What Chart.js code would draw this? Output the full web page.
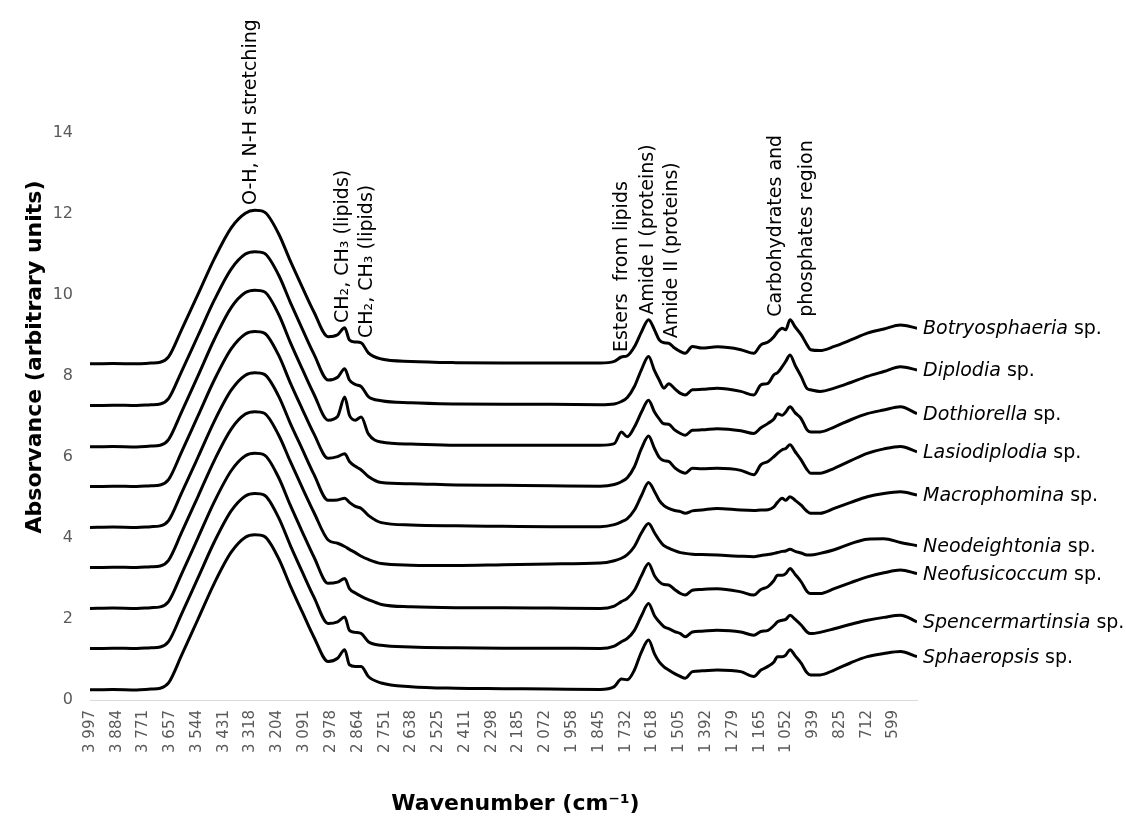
<!DOCTYPE html>
<html>
<head>
<meta charset="utf-8">
<title>FTIR spectra</title>
<script src="https://cdn.jsdelivr.net/npm/chart.js@4.4.1/dist/chart.umd.min.js"></script>
<style>
  body { margin: 0; background: #fff; }
</style>
</head>
<body>
<canvas id="chart" width="1126" height="817"></canvas>
<script>
// wavenumbers (cm-1) where the spectra were read
const wavenumbers = [3997, 3900, 3800, 3740, 3700, 3665, 3610, 3540, 3470, 3400, 3340, 3300, 3260, 3200, 3150, 3100, 3050,
  2990, 2950, 2920, 2900, 2875, 2850, 2820, 2765, 2640, 2450, 2250, 2050,
  1840, 1780, 1750, 1725, 1695, 1665, 1635, 1610, 1590, 1570, 1550, 1525, 1500, 1480, 1450, 1410, 1345, 1245,
  1190, 1160, 1130, 1105, 1090, 1070, 1055, 1037, 1015, 990, 965, 950, 910, 850, 780, 710, 640, 570, 500];

// tick labels of the x axis
const tickLabels = [3997, 3884, 3771, 3657, 3544, 3431, 3318, 3204, 3091, 2978, 2864, 2751, 2638, 2525, 2411, 2298,
  2185, 2072, 1958, 1845, 1732, 1618, 1505, 1392, 1279, 1165, 1052, 939, 825, 712, 599];

const genera = ['Botryosphaeria', 'Diplodia', 'Dothiorella', 'Lasiodiplodia', 'Macrophomina',
  'Neodeightonia', 'Neofusicoccum', 'Spencermartinsia', 'Sphaeropsis'];

// vertical offset of each spectrum
const offsets = [8.30, 7.27, 6.25, 5.27, 4.26, 3.27, 2.26, 1.27, 0.25];

// absorbance above each baseline
const botryosphaeria = [0, 0.01, 0, 0.02, 0.04, 0.17, 0.84, 1.72, 2.61, 3.36, 3.72, 3.79, 3.75, 3.22, 2.54, 1.90, 1.28,
  0.67, 0.72, 0.89, 0.59, 0.54, 0.52, 0.27, 0.12, 0.06, 0.03, 0.02, 0.02,
  0.02, 0.06, 0.17, 0.20, 0.42, 0.79, 1.09, 0.84, 0.59, 0.52, 0.51, 0.39, 0.30, 0.26, 0.43, 0.39, 0.42, 0.35,
  0.26, 0.47, 0.54, 0.67, 0.79, 0.88, 0.84, 1.09, 0.91, 0.72, 0.47, 0.35, 0.33, 0.43, 0.59, 0.76, 0.86, 0.96, 0.88];
const diplodia = [0, 0.01, 0, 0.02, 0.04, 0.17, 0.84, 1.73, 2.62, 3.37, 3.74, 3.80, 3.76, 3.23, 2.55, 1.90, 1.27,
  0.63, 0.70, 0.91, 0.63, 0.52, 0.47, 0.22, 0.12, 0.07, 0.04, 0.03, 0.03,
  0.02, 0.04, 0.10, 0.20, 0.47, 0.89, 1.21, 0.86, 0.63, 0.43, 0.54, 0.42, 0.30, 0.26, 0.39, 0.40, 0.43, 0.35,
  0.26, 0.51, 0.55, 0.76, 0.81, 0.96, 1.09, 1.25, 0.99, 0.72, 0.42, 0.39, 0.35, 0.43, 0.57, 0.72, 0.84, 0.96, 0.88];
const dothiorella = [0, 0.01, 0, 0.02, 0.04, 0.18, 0.86, 1.76, 2.67, 3.44, 3.81, 3.87, 3.83, 3.28, 2.58, 1.93, 1.30,
  0.66, 0.75, 1.23, 0.78, 0.66, 0.74, 0.32, 0.12, 0.07, 0.04, 0.04, 0.04,
  0.04, 0.08, 0.37, 0.25, 0.49, 0.86, 1.15, 0.86, 0.69, 0.57, 0.56, 0.42, 0.33, 0.29, 0.41, 0.42, 0.45, 0.40,
  0.33, 0.47, 0.58, 0.69, 0.82, 0.78, 0.86, 0.99, 0.84, 0.70, 0.42, 0.37, 0.37, 0.49, 0.67, 0.82, 0.91, 0.99, 0.82];
const lasiodiplodia = [0, 0.01, 0, 0.02, 0.04, 0.17, 0.85, 1.75, 2.65, 3.40, 3.77, 3.83, 3.79, 3.25, 2.56, 1.92, 1.30,
  0.70, 0.74, 0.81, 0.62, 0.50, 0.41, 0.25, 0.10, 0.07, 0.04, 0.03, 0.02,
  0.01, 0.05, 0.12, 0.22, 0.49, 0.94, 1.25, 0.94, 0.72, 0.64, 0.62, 0.47, 0.37, 0.33, 0.45, 0.44, 0.45, 0.40,
  0.29, 0.54, 0.62, 0.74, 0.82, 0.91, 0.94, 1.03, 0.86, 0.66, 0.42, 0.33, 0.33, 0.45, 0.64, 0.82, 0.93, 0.99, 0.86];
const macrophomina = [0, 0.01, 0, 0.02, 0.04, 0.17, 0.85, 1.74, 2.64, 3.39, 3.76, 3.82, 3.78, 3.25, 2.57, 1.94, 1.31,
  0.67, 0.68, 0.72, 0.62, 0.52, 0.47, 0.30, 0.12, 0.06, 0.04, 0.03, 0.02,
  0.02, 0.07, 0.14, 0.22, 0.43, 0.79, 1.11, 0.89, 0.67, 0.54, 0.47, 0.42, 0.39, 0.35, 0.41, 0.43, 0.47, 0.43,
  0.42, 0.43, 0.44, 0.51, 0.62, 0.72, 0.67, 0.76, 0.67, 0.55, 0.40, 0.35, 0.35, 0.47, 0.62, 0.76, 0.84, 0.88, 0.80];
const neodeightonia = [0, 0.01, 0, 0.02, 0.04, 0.18, 0.86, 1.76, 2.66, 3.42, 3.79, 3.85, 3.81, 3.28, 2.62, 1.98, 1.36,
  0.68, 0.60, 0.52, 0.45, 0.37, 0.28, 0.20, 0.10, 0.06, 0.05, 0.07, 0.09,
  0.11, 0.17, 0.23, 0.32, 0.52, 0.86, 1.09, 0.86, 0.68, 0.54, 0.48, 0.42, 0.37, 0.35, 0.33, 0.32, 0.31, 0.28,
  0.27, 0.30, 0.32, 0.35, 0.37, 0.40, 0.41, 0.45, 0.40, 0.36, 0.31, 0.31, 0.35, 0.44, 0.59, 0.70, 0.71, 0.62, 0.54];
const neofusicoccum = [0, 0.01, 0, 0.02, 0.04, 0.17, 0.85, 1.75, 2.65, 3.40, 3.77, 3.83, 3.79, 3.24, 2.55, 1.90, 1.27,
  0.62, 0.65, 0.74, 0.49, 0.38, 0.30, 0.22, 0.10, 0.04, 0.02, 0.02, 0.01,
  0, 0.06, 0.17, 0.25, 0.45, 0.81, 1.11, 0.81, 0.66, 0.59, 0.58, 0.47, 0.37, 0.33, 0.45, 0.47, 0.49, 0.41,
  0.33, 0.47, 0.54, 0.69, 0.82, 0.82, 0.86, 0.99, 0.84, 0.66, 0.42, 0.37, 0.37, 0.49, 0.64, 0.78, 0.88, 0.95, 0.86];
const spencermartinsia = [0, 0.01, 0, 0.02, 0.04, 0.17, 0.85, 1.75, 2.65, 3.40, 3.77, 3.83, 3.79, 3.24, 2.55, 1.90, 1.27,
  0.62, 0.66, 0.78, 0.45, 0.40, 0.37, 0.17, 0.08, 0.04, 0.02, 0.01, 0.01,
  0, 0.06, 0.17, 0.25, 0.45, 0.81, 1.11, 0.81, 0.66, 0.54, 0.49, 0.42, 0.37, 0.29, 0.41, 0.43, 0.45, 0.41,
  0.33, 0.42, 0.45, 0.57, 0.66, 0.70, 0.72, 0.82, 0.72, 0.58, 0.41, 0.37, 0.40, 0.49, 0.60, 0.70, 0.77, 0.82, 0.66];
const sphaeropsis = [0, 0.01, 0, 0.02, 0.04, 0.17, 0.85, 1.75, 2.65, 3.40, 3.77, 3.83, 3.79, 3.25, 2.57, 1.93, 1.30,
  0.70, 0.78, 0.99, 0.62, 0.58, 0.58, 0.33, 0.17, 0.08, 0.04, 0.03, 0.02,
  0.01, 0.08, 0.27, 0.25, 0.49, 0.94, 1.23, 0.89, 0.69, 0.57, 0.49, 0.40, 0.33, 0.29, 0.45, 0.47, 0.49, 0.45,
  0.33, 0.49, 0.58, 0.69, 0.82, 0.82, 0.86, 0.99, 0.84, 0.66, 0.42, 0.37, 0.37, 0.49, 0.67, 0.82, 0.90, 0.95, 0.82];

const spectra = [botryosphaeria, diplodia, dothiorella, lasiodiplodia, macrophomina,
  neodeightonia, neofusicoccum, spencermartinsia, sphaeropsis];

// band assignments written above the peaks
const bandLabels = ['O-H, N-H stretching', 'CH\u2082, CH\u2083 (lipids)', 'CH\u2082, CH\u2083 (lipids)',
  'Esters  from lipids', 'Amide I (proteins)', 'Amide II (proteins)', 'Carbohydrates and', 'phosphates region'];
const bandWavenumbers = [3315, 2926, 2825, 1749, 1639, 1534, 1097, 964];
const bandBottoms = [12.22, 9.31, 8.94, 8.59, 9.51, 8.93, 9.46, 9.46];

const FONT = '"DejaVu Sans", sans-serif';

// rótulos das espécies, das bandas e títulos dos eixos
const textPlugin = {
  id: 'texts',
  afterDraw(chart) {
    const { ctx, scales: { x, y } } = chart;
    ctx.save();
    ctx.fillStyle = '#000';

    // nome de cada espécie ao fim da curva
    ctx.textAlign = 'left';
    ctx.textBaseline = 'middle';
    chart.data.datasets.forEach((ds, i) => {
      const pts = chart.getDatasetMeta(i).data;
      const p = pts[pts.length - 1];
      ctx.font = 'italic 19px ' + FONT;
      ctx.fillText(genera[i], p.x + 6, p.y + 1);
      const w = ctx.measureText(genera[i]).width;
      ctx.font = '19px ' + FONT;
      ctx.fillText(' sp.', p.x + 6 + w, p.y + 1);
    });

    // bandas
    ctx.font = '19px ' + FONT;
    bandLabels.forEach((txt, i) => {
      ctx.save();
      ctx.translate(x.getPixelForValue(bandWavenumbers[i]), y.getPixelForValue(bandBottoms[i]));
      ctx.rotate(-Math.PI / 2);
      ctx.fillText(txt, 0, 0);
      ctx.restore();
    });

    // títulos dos eixos
    ctx.font = 'bold 22px ' + FONT;
    ctx.textAlign = 'center';
    ctx.textBaseline = 'alphabetic';
    ctx.fillText('Wavenumber (cm\u207B\u00B9)', (chart.chartArea.left + chart.chartArea.right) / 2 + 12, 810);
    ctx.save();
    ctx.translate(41, 357);
    ctx.rotate(-Math.PI / 2);
    ctx.fillText('Absorvance (arbitrary units)', 0, 0);
    ctx.restore();

    ctx.restore();
  }
};

const datasets = spectra.map((values, i) => ({
  label: genera[i],
  data: wavenumbers.map((w, k) => ({ x: w, y: values[k] + offsets[i] })),
  borderColor: '#000',
  borderWidth: 3,
  pointRadius: 0,
  fill: false,
  cubicInterpolationMode: 'monotone'
}));

new Chart(document.getElementById('chart'), {
  type: 'line',
  data: { datasets: datasets },
  options: {
    responsive: false,
    animation: false,
    devicePixelRatio: 1,
    layout: { padding: { top: 133, right: 209, bottom: 0, left: 0 } },
    plugins: {
      legend: { display: false },
      tooltip: { enabled: false }
    },
    scales: {
      x: {
        type: 'linear',
        reverse: true,
        min: 500,
        max: 3997,
        afterBuildTicks: (scale) => { scale.ticks = tickLabels.map(v => ({ value: v })); },
        afterFit: (scale) => { scale.height = 117; },
        grid: { drawOnChartArea: false, drawTicks: false },
        border: { display: true, color: '#d9d9d9', width: 1 },
        ticks: {
          autoSkip: false,
          maxRotation: 90,
          minRotation: 90,
          padding: 10,
          color: '#595959',
          font: { family: FONT, size: 15 },
          callback: (v) => v >= 1000 ? Math.floor(v / 1000) + ' ' + String(v % 1000).padStart(3, '0') : String(v)
        }
      },
      y: {
        min: 0,
        max: 14,
        afterFit: (scale) => { scale.width = 90; },
        grid: { drawOnChartArea: false, drawTicks: false },
        border: { display: false },
        ticks: {
          stepSize: 2,
          padding: 17,
          color: '#595959',
          font: { family: FONT, size: 16 }
        }
      }
    }
  },
  plugins: [textPlugin]
});
</script>
</body>
</html>
